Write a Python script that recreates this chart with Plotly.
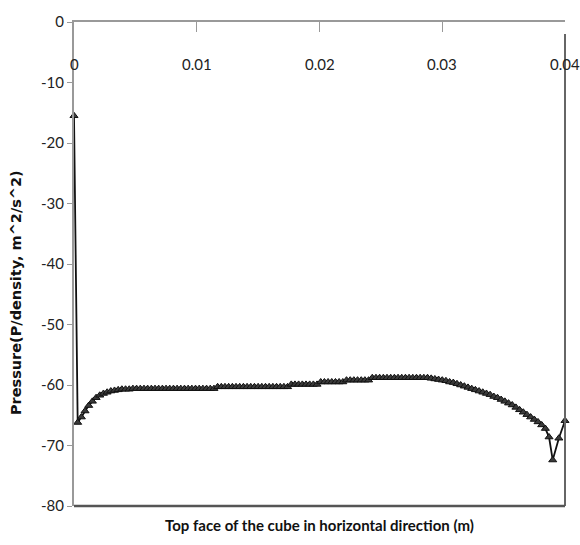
import plotly.graph_objects as go

# Sample positions along the top face (m): uniform 0.3 mm grid, then two end points
position_m = [
    0.0, 0.0003, 0.0006, 0.0009, 0.0012, 0.0015, 0.0018, 0.0021, 0.0024, 0.0027,
    0.0030, 0.0033, 0.0036, 0.0039, 0.0042, 0.0045, 0.0048, 0.0051, 0.0054, 0.0057,
    0.0060, 0.0063, 0.0066, 0.0069, 0.0072, 0.0075, 0.0078, 0.0081, 0.0084, 0.0087,
    0.0090, 0.0093, 0.0096, 0.0099, 0.0102, 0.0105, 0.0108, 0.0111, 0.0114, 0.0117,
    0.0120, 0.0123, 0.0126, 0.0129, 0.0132, 0.0135, 0.0138, 0.0141, 0.0144, 0.0147,
    0.0150, 0.0153, 0.0156, 0.0159, 0.0162, 0.0165, 0.0168, 0.0171, 0.0174, 0.0177,
    0.0180, 0.0183, 0.0186, 0.0189, 0.0192, 0.0195, 0.0198, 0.0201, 0.0204, 0.0207,
    0.0210, 0.0213, 0.0216, 0.0219, 0.0222, 0.0225, 0.0228, 0.0231, 0.0234, 0.0237,
    0.0240, 0.0243, 0.0246, 0.0249, 0.0252, 0.0255, 0.0258, 0.0261, 0.0264, 0.0267,
    0.0270, 0.0273, 0.0276, 0.0279, 0.0282, 0.0285, 0.0288, 0.0291, 0.0294, 0.0297,
    0.0300, 0.0303, 0.0306, 0.0309, 0.0312, 0.0315, 0.0318, 0.0321, 0.0324, 0.0327,
    0.0330, 0.0333, 0.0336, 0.0339, 0.0342, 0.0345, 0.0348, 0.0351, 0.0354, 0.0357,
    0.0360, 0.0363, 0.0366, 0.0369, 0.0372, 0.0375, 0.0378, 0.0381, 0.0384, 0.0387,
    0.0390, 0.0395, 0.0400,
]

# Kinematic pressure p/rho (m^2/s^2) at each sample position
pressure = [
    -15.5, -66.2, -65.3, -64.3, -63.4, -62.7, -62.1, -61.7, -61.4, -61.2,
    -61.0, -60.9, -60.8, -60.7, -60.7, -60.7, -60.6, -60.6, -60.6, -60.6,
    -60.6, -60.6, -60.6, -60.6, -60.6, -60.6, -60.6, -60.6, -60.6, -60.6,
    -60.6, -60.6, -60.6, -60.6, -60.6, -60.6, -60.6, -60.6, -60.6, -60.3,
    -60.3, -60.3, -60.3, -60.3, -60.3, -60.3, -60.3, -60.3, -60.3, -60.3,
    -60.3, -60.3, -60.3, -60.3, -60.3, -60.3, -60.3, -60.3, -60.3, -59.9,
    -59.9, -59.9, -59.9, -59.9, -59.9, -59.9, -59.9, -59.5, -59.5, -59.5,
    -59.5, -59.5, -59.5, -59.5, -59.2, -59.2, -59.2, -59.2, -59.2, -59.2,
    -59.2, -58.8, -58.8, -58.8, -58.8, -58.8, -58.8, -58.8, -58.8, -58.8,
    -58.8, -58.8, -58.8, -58.8, -58.8, -58.8, -58.8, -58.9, -59.0, -59.1,
    -59.2, -59.3, -59.5, -59.6, -59.8, -60.0, -60.2, -60.4, -60.6, -60.8,
    -61.0, -61.2, -61.4, -61.6, -61.9, -62.1, -62.4, -62.7, -63.0, -63.3,
    -63.7, -64.1, -64.5, -64.9, -65.3, -65.7, -66.1, -66.6, -67.2, -68.6,
    -72.4, -68.8, -65.9,
]

x_ticks = [0, 0.01, 0.02, 0.03, 0.04]
x_tick_text = ["0", "0.01", "0.02", "0.03", "0.04"]
y_ticks = [0, -10, -20, -30, -40, -50, -60, -70, -80]
y_tick_text = ["0", "-10", "-20", "-30", "-40", "-50", "-60", "-70", "-80"]

FONT = "Lato, 'Open Sans', sans-serif"
TICK_FONT = dict(family=FONT, size=15, color="#222222")

fig = go.Figure()
fig.add_trace(go.Scatter(
    x=position_m,
    y=pressure,
    mode="lines+markers",
    line=dict(color="#111111", width=1.8),
    marker=dict(symbol="triangle-up", size=7, color="#3a3a3a",
                line=dict(color="#111111", width=1)),
    showlegend=False,
    cliponaxis=False,
))

# x tick labels sit below the top axis line, inside the plot area
x_label_annotations = [
    dict(text=txt, x=val, xref="x", yref="paper", y=0.914,
         xanchor="center", yanchor="middle", showarrow=False, font=TICK_FONT)
    for val, txt in zip(x_ticks, x_tick_text)
]

fig.update_layout(
    width=580,
    height=545,
    margin=dict(l=74, r=15, t=15, b=39),
    paper_bgcolor="white",
    plot_bgcolor="white",
    font=dict(family=FONT, size=15, color="#222222"),
    xaxis=dict(
        range=[0, 0.04],
        side="top",
        tickvals=x_ticks,
        ticks="inside",
        ticklen=10,
        tickcolor="#999999",
        showticklabels=False,
        showline=True,
        linecolor="#999999",
        linewidth=2,
        showgrid=False,
        zeroline=False,
    ),
    yaxis=dict(
        range=[-80, 0],
        tickvals=y_ticks,
        ticktext=y_tick_text,
        ticks="outside",
        ticklen=5,
        tickcolor="#999999",
        showline=True,
        linecolor="#999999",
        linewidth=2,
        showgrid=False,
        zeroline=False,
        tickfont=TICK_FONT,
    ),
    shapes=[
        # plot-area frame on the right and bottom edges
        dict(type="line", xref="paper", yref="paper", x0=1, x1=1, y0=0, y1=0.975,
             line=dict(color="#666666", width=2)),
        dict(type="line", xref="paper", yref="paper", x0=0, x1=1, y0=0, y1=0,
             line=dict(color="#555555", width=2.5)),
    ],
    annotations=x_label_annotations + [
        dict(text="<b>Top face of the cube in horizontal direction (m)</b>",
             xref="paper", yref="paper", x=0.501, y=-0.039,
             xanchor="center", yanchor="middle", showarrow=False,
             font=dict(family=FONT, size=15, color="#111111")),
        dict(text="<b>Pressure(P/density, m^2/s^2)</b>",
             xref="paper", yref="paper", x=-0.118, y=0.44,
             xanchor="center", yanchor="middle", textangle=-90, showarrow=False,
             font=dict(family="DejaVu Sans, sans-serif", size=14.5, color="#111111")),
    ],
)

fig.write_html("out.html")
